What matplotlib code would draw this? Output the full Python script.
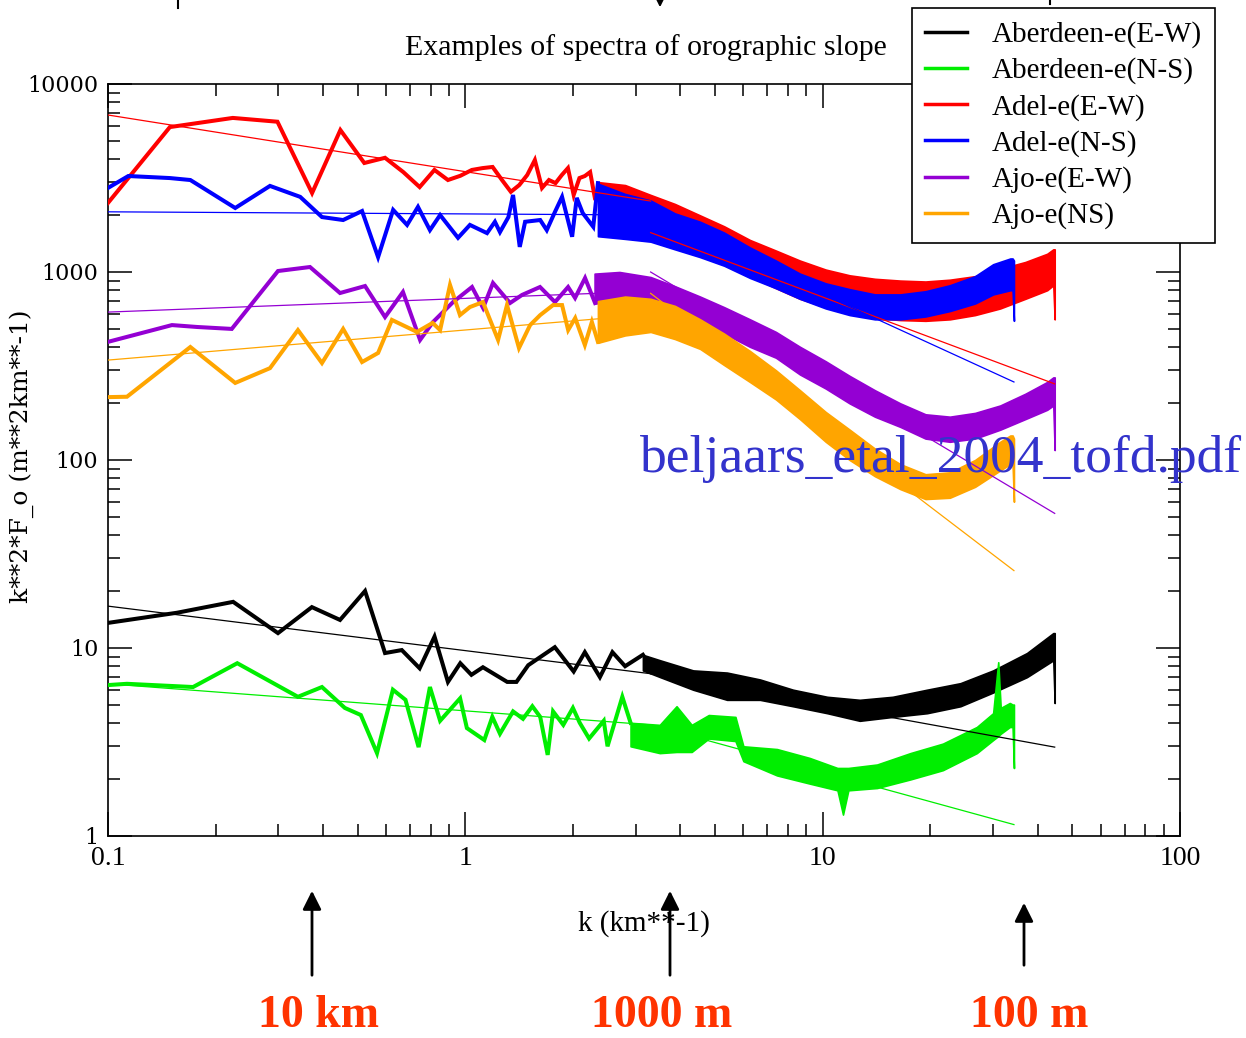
import matplotlib
matplotlib.use("Agg")
import matplotlib.pyplot as plt
from matplotlib.ticker import LogLocator, FuncFormatter, NullFormatter
from matplotlib.lines import Line2D
from matplotlib.patches import FancyArrowPatch

# ---------------- data ----------------
labels = ["Aberdeen-e(E-W)", "Aberdeen-e(N-S)", "Adel-e(E-W)", "Adel-e(N-S)", "Ajo-e(E-W)", "Ajo-e(NS)"]
colors = ["#000000", "#00ee00", "#ff0000", "#0000ff", "#9400d3", "#ffa500"]

# low-wavenumber part (individual spectral values)
aberdeen_ew_k = [0.1, 0.156, 0.224, 0.299, 0.372, 0.446, 0.524, 0.596, 0.664, 0.745, 0.82, 0.894, 0.968,
                 1.04, 1.12, 1.31, 1.39, 1.50, 1.78, 2.01, 2.16, 2.38, 2.58, 2.8, 3.14]
aberdeen_ew_f = [13.6, 15.4, 17.6, 12.0, 16.5, 14.1, 20.1, 9.4, 9.75, 7.8, 11.5, 6.6, 8.3,
                 7.2, 7.9, 6.6, 6.6, 8.1, 10.1, 7.5, 9.5, 7.0, 9.5, 8.0, 9.2]

aberdeen_ns_k = [0.1, 0.113, 0.173, 0.23, 0.34, 0.397, 0.46, 0.51, 0.566, 0.627, 0.68, 0.74, 0.796, 0.85,
                 0.967, 1.01, 1.13, 1.19, 1.25, 1.36, 1.45, 1.54, 1.62, 1.70, 1.76, 1.88, 2.0, 2.09,
                 2.22, 2.44, 2.5, 2.75, 2.9]
aberdeen_ns_f = [6.35, 6.45, 6.2, 8.3, 5.5, 6.2, 4.8, 4.4, 2.76, 6.0, 5.3, 2.97, 6.2, 4.1,
                 5.4, 3.75, 3.24, 4.3, 3.5, 4.6, 4.2, 4.9, 4.3, 2.7, 4.6, 3.9, 4.8, 4.0,
                 3.3, 4.1, 3.0, 5.5, 4.0]

adel_ew_k = [0.1, 0.149, 0.2235, 0.298, 0.3725, 0.447, 0.5215, 0.596, 0.6705, 0.745, 0.8195, 0.894, 0.9685,
             1.043, 1.1175, 1.192, 1.2665, 1.341, 1.4155, 1.49, 1.565, 1.639, 1.714, 1.788, 1.862, 1.937,
             2.01, 2.086, 2.16, 2.235, 2.31, 2.38]
adel_ew_f = [2330, 5900, 6600, 6300, 2630, 5690, 3800, 4050, 3400, 2830, 3490, 3085, 3250,
             3490, 3570, 3620, 3085, 2670, 2900, 3280, 3940, 2800, 3085, 2970, 3280, 3570,
             2570, 3160, 3240, 3400, 2415, 2900]

adel_ns_k = [0.1, 0.114, 0.149, 0.170, 0.227, 0.284, 0.345, 0.397, 0.455, 0.514, 0.570, 0.628, 0.687,
             0.737, 0.796, 0.850, 0.954, 1.03, 1.15, 1.21, 1.25, 1.32, 1.36, 1.42, 1.47, 1.62, 1.69,
             1.78, 1.865, 1.99, 2.05, 2.13, 2.28, 2.35]
adel_ns_f = [2800, 3240, 3160, 3085, 2190, 2870, 2510, 1960, 1890, 2110, 1200, 2140, 1780,
             2220, 1670, 2010, 1520, 1780, 1610, 1850, 1630, 1960, 2570, 1360, 1850, 1890, 1670,
             2080, 2510, 1540, 2480, 2060, 1740, 2970]

ajo_ew_k = [0.1, 0.151, 0.1775, 0.222, 0.299, 0.3675, 0.446, 0.524, 0.596, 0.669, 0.747, 0.812, 0.924,
            1.044, 1.121, 1.195, 1.334, 1.441, 1.618, 1.782, 1.939, 2.028, 2.163, 2.307]
ajo_ew_f = [425, 522, 510, 498, 1012, 1063, 773, 842, 576, 783, 435, 542, 692,
            832, 644, 874, 684, 755, 832, 692, 832, 728, 929, 684]

ajo_ns_k = [0.1, 0.113, 0.170, 0.227, 0.284, 0.340, 0.397, 0.455, 0.514, 0.570, 0.623, 0.732, 0.81, 0.85,
            0.906, 0.966, 1.03, 1.12, 1.235, 1.308, 1.413, 1.518, 1.62, 1.76, 1.865, 1.94, 2.03, 2.16,
            2.26, 2.35]
ajo_ns_f = [216, 217, 399, 257, 308, 491, 328, 498, 332, 371, 556, 480, 536, 491,
            853, 590, 651, 692, 435, 667, 394, 522, 590, 667, 667, 491, 569, 409,
            542, 425]

# high-wavenumber part (dense noisy spectrum: lower / upper envelope)
aberdeen_ew_band_k = [3.14, 3.51, 4.34, 5.40, 6.68, 8.26, 10.3, 12.7, 15.7, 19.6, 24.3, 30.0, 37.3, 44.2, 44.6]
aberdeen_ew_band_lo = [7.6, 7.0, 6.0, 5.3, 5.3, 4.9, 4.5, 4.1, 4.3, 4.5, 4.9, 5.8, 7.0, 8.6, 5.1]
aberdeen_ew_band_hi = [9.2, 8.6, 7.6, 7.4, 6.8, 6.0, 5.5, 5.3, 5.5, 6.0, 6.5, 7.6, 9.4, 12.0, 12.0]

aberdeen_ns_band_k = [2.9, 3.5, 3.9, 4.3, 4.8, 5.7, 6.0, 7.45, 9.2, 11.0, 11.4, 11.8, 14.2, 17.6, 21.7,
                      27.0, 30.0, 31.0, 31.5, 33.4, 34.0, 34.3]
aberdeen_ns_band_lo = [3.0, 2.76, 2.8, 2.8, 3.3, 3.2, 2.5, 2.1, 1.9, 1.75, 1.3, 1.75, 1.8, 2.0, 2.24,
                       2.76, 3.24, 3.4, 3.5, 3.8, 3.8, 2.3]
aberdeen_ns_band_hi = [4.0, 3.9, 4.9, 3.9, 4.4, 4.3, 3.0, 2.9, 2.6, 2.3, 2.3, 2.3, 2.4, 2.76, 3.1,
                       3.8, 4.5, 8.4, 4.8, 5.1, 5.0, 5.0]

adel_ew_band_k = [2.38, 2.8, 3.3, 3.86, 4.54, 5.3, 6.26, 7.4, 8.64, 10.2, 11.9, 14.0, 16.5, 19.4, 22.7,
                  26.7, 31.4, 36.9, 42.5, 44.2, 44.6]
adel_ew_band_lo = [2140, 1900, 1700, 1500, 1300, 1100, 950, 820, 720, 650, 600, 570, 555, 550, 560,
                   590, 640, 720, 800, 850, 560]
adel_ew_band_hi = [3000, 2900, 2570, 2300, 2000, 1750, 1480, 1300, 1150, 1030, 960, 920, 900, 890, 910,
                   950, 1040, 1130, 1250, 1320, 1320]

adel_ns_band_k = [2.35, 2.8, 3.3, 3.86, 4.54, 5.3, 6.26, 7.4, 8.64, 10.2, 11.9, 14.0, 16.5, 19.4, 22.7,
                  26.7, 30.0, 33.5, 34.0, 34.3]
adel_ns_band_lo = [1550, 1500, 1450, 1320, 1200, 1080, 930, 820, 720, 640, 590, 560, 560, 580, 620,
                   680, 760, 800, 800, 550]
adel_ns_band_hi = [2950, 2600, 2400, 2050, 1850, 1620, 1350, 1150, 980, 870, 810, 760, 760, 790, 850,
                   950, 1100, 1180, 1180, 1150]

ajo_ew_band_k = [2.3, 2.7, 3.3, 3.86, 4.54, 5.3, 6.26, 7.4, 8.64, 10.2, 11.9, 14.0, 16.5, 19.4, 22.7,
                 26.7, 31.4, 36.9, 42.5, 44.2, 44.6]
ajo_ew_band_lo = [680, 700, 650, 600, 540, 470, 400, 350, 285, 240, 200, 170, 150, 130, 125,
                  130, 145, 165, 185, 195, 113]
ajo_ew_band_hi = [980, 1000, 940, 840, 740, 650, 560, 480, 400, 335, 280, 235, 200, 175, 170,
                  178, 195, 225, 260, 275, 275]

ajo_ns_band_k = [2.35, 2.8, 3.3, 3.86, 4.54, 5.3, 6.26, 7.4, 8.64, 10.2, 11.9, 14.0, 16.5, 19.4, 22.7,
                 26.7, 31.4, 33.5, 34.0, 34.3]
ajo_ns_band_lo = [420, 460, 480, 440, 390, 320, 260, 210, 165, 125, 100, 82, 70, 62, 63,
                  72, 88, 95, 95, 60]
ajo_ns_band_hi = [700, 740, 720, 660, 560, 470, 380, 300, 235, 180, 145, 115, 95, 84, 86,
                  100, 125, 135, 135, 130]

# power-law fits (low-k range and high-k range)
aberdeen_ew_fit_lo = ([0.1, 3.3], [16.7, 7.3])
aberdeen_ew_fit_hi = ([3.3, 44.6], [7.3, 2.97])
aberdeen_ns_fit_lo = ([0.1, 3.3], [6.45, 3.9])
aberdeen_ns_fit_hi = ([3.3, 34.3], [3.9, 1.15])
adel_ew_fit_lo = ([0.1, 3.3], [6840, 2385])
adel_ew_fit_hi = ([3.3, 44.6], [1620, 254])
adel_ns_fit_lo = ([0.1, 3.3], [2090, 2010])
adel_ns_fit_hi = ([3.3, 34.3], [2000, 260])
ajo_ew_fit_lo = ([0.1, 3.3], [612, 790])
ajo_ew_fit_hi = ([3.3, 44.6], [1000, 52])
ajo_ns_fit_lo = ([0.1, 3.3], [340, 595])
ajo_ns_fit_hi = ([3.3, 34.3], [770, 25.8])

x_ticks = [0.1, 1, 10, 100]
y_ticks = [1, 10, 100, 1000, 10000]

series = [
    (aberdeen_ew_k, aberdeen_ew_f, aberdeen_ew_band_k, aberdeen_ew_band_lo, aberdeen_ew_band_hi,
     aberdeen_ew_fit_lo, aberdeen_ew_fit_hi),
    (aberdeen_ns_k, aberdeen_ns_f, aberdeen_ns_band_k, aberdeen_ns_band_lo, aberdeen_ns_band_hi,
     aberdeen_ns_fit_lo, aberdeen_ns_fit_hi),
    (adel_ew_k, adel_ew_f, adel_ew_band_k, adel_ew_band_lo, adel_ew_band_hi, adel_ew_fit_lo, adel_ew_fit_hi),
    (adel_ns_k, adel_ns_f, adel_ns_band_k, adel_ns_band_lo, adel_ns_band_hi, adel_ns_fit_lo, adel_ns_fit_hi),
    (ajo_ew_k, ajo_ew_f, ajo_ew_band_k, ajo_ew_band_lo, ajo_ew_band_hi, ajo_ew_fit_lo, ajo_ew_fit_hi),
    (ajo_ns_k, ajo_ns_f, ajo_ns_band_k, ajo_ns_band_lo, ajo_ns_band_hi, ajo_ns_fit_lo, ajo_ns_fit_hi),
]

# ---------------- figure ----------------
plt.rcParams['font.family'] = ['Liberation Serif', 'DejaVu Serif']
W, H = 1246, 1038
fig = plt.figure(figsize=(W / 100, H / 100), dpi=100)
ax = fig.add_axes([108 / W, 1 - 836 / H, 1072 / W, 752 / H])
ax.set_xscale('log')
ax.set_yscale('log')

for (k, f, bk, blo, bhi, fit_lo, fit_hi), c in zip(series, colors):
    ax.plot(k, f, color=c, lw=2.9, solid_joinstyle='miter', zorder=3)
    ax.fill_between(bk, blo, bhi, color=c, lw=1.2, edgecolor=c, zorder=3)
    ax.plot(fit_lo[0], fit_lo[1], color=c, lw=0.9, zorder=4)
    ax.plot(fit_hi[0], fit_hi[1], color=c, lw=0.9, zorder=4)

# axes styling
for s in ax.spines.values():
    s.set_linewidth(1.2)
ax.xaxis.set_minor_locator(LogLocator(base=10, subs=range(2, 10)))
ax.yaxis.set_minor_locator(LogLocator(base=10, subs=range(2, 10)))
ax.set_xticks(x_ticks)
ax.set_yticks(y_ticks)
fmt = FuncFormatter(lambda v, _: f"{v:g}")
ax.xaxis.set_major_formatter(fmt)
ax.yaxis.set_major_formatter(fmt)
ax.xaxis.set_minor_formatter(NullFormatter())
ax.yaxis.set_minor_formatter(NullFormatter())
ax.tick_params(which='both', direction='in', top=True, right=True, width=1.1, colors='black')
ax.tick_params(which='major', length=17)
ax.tick_params(which='minor', length=8.5)
ax.tick_params(axis='x', which='major', labelsize=20, pad=7)
ax.tick_params(axis='y', which='major', labelsize=16, pad=7)
for t in ax.get_yticklabels():
    t.set_family('DejaVu Serif')
ax.set_xlim(0.1, 100)
ax.set_ylim(1, 10000)

ax.set_xlabel("k (km**-1)", fontsize=21, labelpad=28)
fig.text(22 / W, 1 - 456 / H, "k**2*F_o (m**2km**-1)", fontsize=18, family='DejaVu Serif',
         rotation=90, ha='center', va='center')

fig.text(646 / W, 1 - 48 / H, "Examples of spectra of orographic slope", fontsize=21.5,
         ha='center', va='center')

handles = [Line2D([], [], color=c, lw=2.5) for c in colors]
leg = fig.legend(handles, labels, loc='upper left', bbox_to_anchor=(912 / W, 1 - 8 / H),
                 bbox_transform=fig.transFigure, borderaxespad=0, fontsize=21, frameon=True,
                 fancybox=False, framealpha=1, edgecolor='black', handlelength=1.45,
                 handletextpad=0.85, labelspacing=0.32, borderpad=0.45)
leg.get_frame().set_linewidth(1.2)

# watermark
fig.text(640 / W, 1 - 472 / H, "beljaars_etal_2004_tofd.pdf", fontsize=38.5, color='#3333cc',
         ha='left', va='baseline', zorder=10)

# scale annotations below the plot
for xp, tail, tip in [(312, 978, 888), (670, 978, 888), (1024, 968, 900)]:
    fig.add_artist(FancyArrowPatch((xp / W, 1 - tail / H), (xp / W, 1 - tip / H),
                   transform=fig.transFigure, arrowstyle='-|>', mutation_scale=28, lw=2, color='black'))
for xp, txt in [(318, "10 km"), (662, "1000 m"), (1029, "100 m")]:
    fig.text(xp / W, 1 - 1037 / H, txt, fontsize=33, fontweight='bold', color='#ff3300',
             ha='center', va='bottom')

# cropped remnants of arrows at the top edge
fig.add_artist(Line2D([178 / W, 178 / W], [1.0, 1 - 8 / H], transform=fig.transFigure, color='black', lw=1.5))
fig.add_artist(FancyArrowPatch((660 / W, 1 + 30 / H), (660 / W, 1 - 10 / H),
               transform=fig.transFigure, arrowstyle='-|>', mutation_scale=22, lw=1.5, color='black'))
fig.add_artist(Line2D([1050 / W, 1050 / W], [1.0, 1 - 4 / H], transform=fig.transFigure, color='black', lw=1.5))

fig.savefig("out.png", dpi=100)
